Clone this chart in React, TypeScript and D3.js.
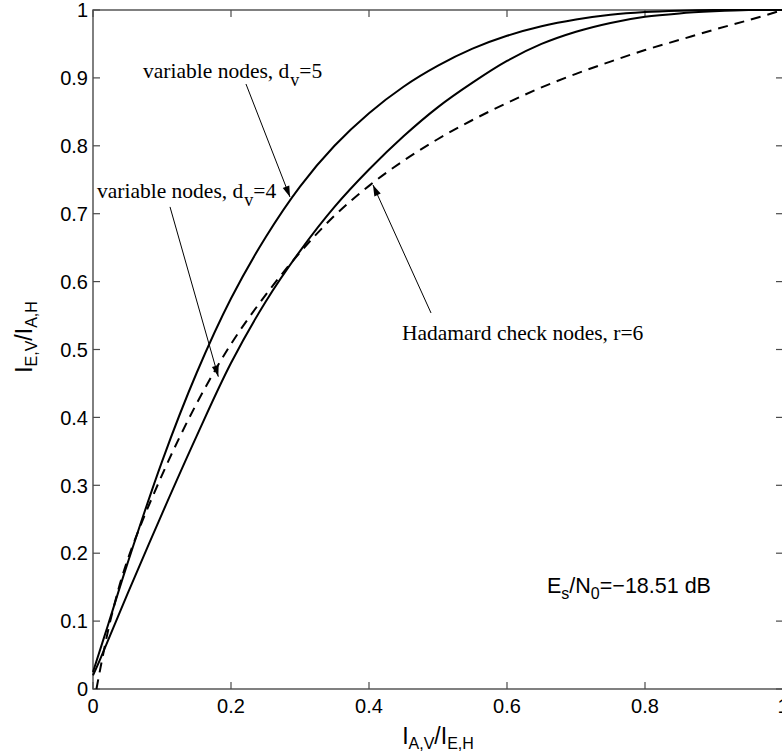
import React from "react";
import * as d3 from "d3";

// Curve data (x = I_A,V / I_E,H, y = I_E,V / I_A,H)
const dv5X = [0, 0.022, 0.05, 0.1, 0.15, 0.2, 0.25, 0.3, 0.35, 0.4, 0.45, 0.5, 0.55, 0.6, 0.65, 0.7, 0.75, 0.8, 0.85, 0.9, 1.0];
const dv5Y = [0.025, 0.095, 0.185, 0.335, 0.465, 0.575, 0.665, 0.74, 0.8, 0.848, 0.887, 0.918, 0.943, 0.962, 0.976, 0.986, 0.993, 0.997, 0.999, 1.0, 1.0];

const dv4X = [0, 0.01, 0.05, 0.1, 0.15, 0.2, 0.25, 0.3, 0.35, 0.4, 0.45, 0.5, 0.55, 0.6, 0.65, 0.7, 0.75, 0.8, 0.85, 0.9, 0.95, 1.0];
const dv4Y = [0.02, 0.043, 0.14, 0.258, 0.372, 0.48, 0.57, 0.645, 0.71, 0.765, 0.814, 0.857, 0.893, 0.925, 0.95, 0.968, 0.981, 0.99, 0.995, 0.998, 1.0, 1.0];

const hadX = [0.005, 0.025, 0.05, 0.1, 0.15, 0.2, 0.25, 0.3, 0.35, 0.4, 0.45, 0.5, 0.55, 0.6, 0.65, 0.7, 0.75, 0.8, 0.85, 0.9, 0.95, 1.0];
const hadY = [0, 0.1, 0.19, 0.315, 0.42, 0.508, 0.58, 0.643, 0.697, 0.741, 0.778, 0.81, 0.838, 0.863, 0.886, 0.906, 0.924, 0.941, 0.956, 0.971, 0.985, 1.0];

const xTicks = [0, 0.2, 0.4, 0.6, 0.8, 1];
const yTicks = [0, 0.1, 0.2, 0.3, 0.4, 0.5, 0.6, 0.7, 0.8, 0.9, 1];

const W = 782;
const H = 756;
const L = 93, R = 783, T = 10, B = 689;

export default function App() {
  const x = d3.scaleLinear().domain([0, 1]).range([L, R]);
  const y = d3.scaleLinear().domain([0, 1]).range([B, T]);
  const line = d3
    .line<[number, number]>()
    .x((d) => x(d[0]))
    .y((d) => y(d[1]))
    .curve(d3.curveCatmullRom.alpha(0.5));
  const zip = (a: number[], b: number[]) => a.map((v, i) => [v, b[i]] as [number, number]);

  const axisColor = "#4a4a4a";
  const tickLen = 7;
  const sans = "'Liberation Sans', Arial, Helvetica, sans-serif";
  const serif = "'Liberation Serif', 'Times New Roman', serif";

  const arrows = [
    { x1: 0.2217, y1: 0.891, x2: 0.2855, y2: 0.7246 },
    { x1: 0.1116, y1: 0.71, x2: 0.1816, y2: 0.46 },
    { x1: 0.4899, y1: 0.5538, x2: 0.4058, y2: 0.7423 },
  ];

  const arrowHead = (a: { x1: number; y1: number; x2: number; y2: number }) => {
    const px1 = x(a.x1), py1 = y(a.y1), px2 = x(a.x2), py2 = y(a.y2);
    const ang = Math.atan2(py2 - py1, px2 - px1);
    const len = 11, half = 3.5;
    const bx = px2 - len * Math.cos(ang), by = py2 - len * Math.sin(ang);
    const nx = -Math.sin(ang), ny = Math.cos(ang);
    return `M${px2},${py2}L${bx + nx * half},${by + ny * half}L${bx - nx * half},${by - ny * half}Z`;
  };

  return (
    <svg
      width={W}
      height={H}
      style={{ position: "absolute", left: 0, top: 0, background: "#fff" }}
    >
      <rect x={0} y={0} width={W} height={H} fill="#fff" />
      {/* box */}
      <rect x={L} y={T} width={R - L} height={B - T} fill="none" stroke={axisColor} strokeWidth={1.4} />
      {/* x ticks */}
      {xTicks.map((t) => (
        <g key={"xt" + t}>
          <line x1={x(t)} x2={x(t)} y1={B} y2={B - tickLen} stroke={axisColor} strokeWidth={1.2} />
          <line x1={x(t)} x2={x(t)} y1={T} y2={T + tickLen} stroke={axisColor} strokeWidth={1.2} />
          <text x={x(t)} y={713} textAnchor="middle" fontFamily={sans} fontSize={20} fill="#000">
            {d3.format("~g")(t)}
          </text>
        </g>
      ))}
      {/* y ticks */}
      {yTicks.map((t) => (
        <g key={"yt" + t}>
          <line x1={L} x2={L + tickLen} y1={y(t)} y2={y(t)} stroke={axisColor} strokeWidth={1.2} />
          <line x1={R} x2={R - tickLen} y1={y(t)} y2={y(t)} stroke={axisColor} strokeWidth={1.2} />
          <text x={88} y={y(t)} dy="0.36em" textAnchor="end" fontFamily={sans} fontSize={20} fill="#000">
            {d3.format("~g")(t)}
          </text>
        </g>
      ))}

      {/* curves */}
      <path d={line(zip(dv5X, dv5Y)) || ""} fill="none" stroke="#000" strokeWidth={2} />
      <path d={line(zip(dv4X, dv4Y)) || ""} fill="none" stroke="#000" strokeWidth={2} />
      <path d={line(zip(hadX, hadY)) || ""} fill="none" stroke="#000" strokeWidth={2} strokeDasharray="10,7" />

      {/* annotation arrows */}
      {arrows.map((a, i) => (
        <g key={"ar" + i}>
          <line x1={x(a.x1)} y1={y(a.y1)} x2={x(a.x2)} y2={y(a.y2)} stroke="#000" strokeWidth={1} />
          <path d={arrowHead(a)} fill="#000" />
        </g>
      ))}

      {/* annotation texts */}
      <text x={x(0.0725)} y={y(0.9)} fontFamily={serif} fontSize={21.5} fill="#000">
        variable nodes, d
        <tspan dx={1} dy={8} fontSize={18}>v</tspan>
        <tspan dy={-8}>=5</tspan>
      </text>
      <text x={x(0.0058)} y={y(0.723)} fontFamily={serif} fontSize={21.5} fill="#000">
        variable nodes, d
        <tspan dx={1} dy={8} fontSize={18}>v</tspan>
        <tspan dy={-8}>=4</tspan>
      </text>
      <text x={x(0.4478)} y={y(0.514)} fontFamily={serif} fontSize={21.5} fill="#000">
        Hadamard check nodes, r=6
      </text>
      <text x={x(0.658)} y={y(0.141)} fontFamily={sans} fontSize={21.5} fill="#000">
        E<tspan dy={6} fontSize={16}>s</tspan>
        <tspan dy={-6}>/N</tspan>
        <tspan dy={6} fontSize={16}>0</tspan>
        <tspan dy={-6}>=−18.51 dB</tspan>
      </text>

      {/* axis labels */}
      <text x={438} y={744} textAnchor="middle" fontFamily={sans} fontSize={23} fill="#000">
        I<tspan dy={5} fontSize={16}>A,V</tspan>
        <tspan dy={-5}>/I</tspan>
        <tspan dy={5} fontSize={16}>E,H</tspan>
      </text>
      <text
        transform={`translate(32,337) rotate(-90)`}
        textAnchor="middle"
        fontFamily={sans}
        fontSize={23}
        fill="#000"
      >
        I<tspan dy={5} fontSize={16}>E,V</tspan>
        <tspan dy={-5}>/I</tspan>
        <tspan dy={5} fontSize={16}>A,H</tspan>
      </text>
    </svg>
  );
}
